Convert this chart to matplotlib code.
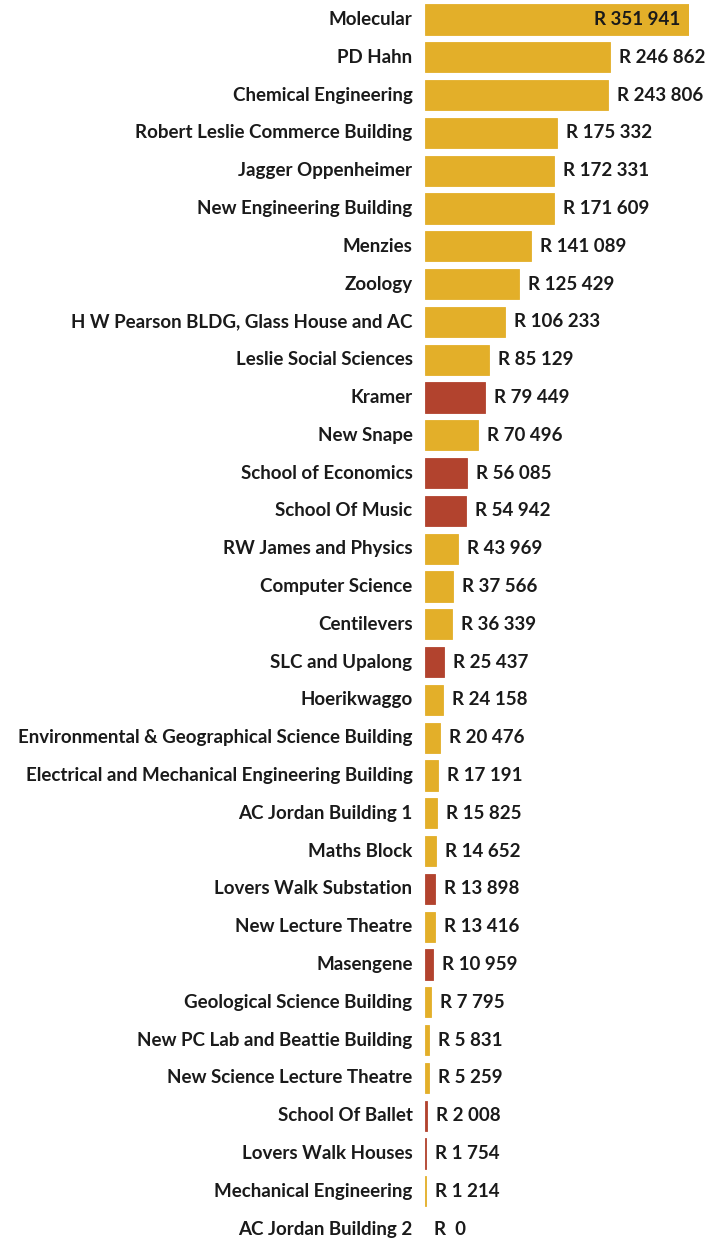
import numpy as np
import matplotlib.pyplot as plt

plt.rcParams['font.family'] = ['Lato', 'DejaVu Sans']

buildings = [
    'Molecular', 'PD Hahn', 'Chemical Engineering', 'Robert Leslie Commerce Building',
    'Jagger Oppenheimer', 'New Engineering Building', 'Menzies', 'Zoology',
    'H W Pearson BLDG, Glass House and AC', 'Leslie Social Sciences', 'Kramer',
    'New Snape', 'School of Economics', 'School Of Music', 'RW James and Physics',
    'Computer Science', 'Centilevers', 'SLC and Upalong', 'Hoerikwaggo',
    'Environmental & Geographical Science Building',
    'Electrical and Mechanical Engineering Building', 'AC Jordan Building 1',
    'Maths Block', 'Lovers Walk Substation', 'New Lecture Theatre', 'Masengene',
    'Geological Science Building', 'New PC Lab and Beattie Building',
    'New Science Lecture Theatre', 'School Of Ballet', 'Lovers Walk Houses',
    'Mechanical Engineering', 'AC Jordan Building 2',
]
costs = [
    351941, 246862, 243806, 175332, 172331, 171609, 141089, 125429, 106233,
    85129, 79449, 70496, 56085, 54942, 43969, 37566, 36339, 25437, 24158,
    20476, 17191, 15825, 14652, 13898, 13416, 10959, 7795, 5831, 5259,
    2008, 1754, 1214, 0,
]
highlighted = [
    'Kramer', 'School of Economics', 'School Of Music', 'SLC and Upalong',
    'Lovers Walk Substation', 'Masengene', 'School Of Ballet', 'Lovers Walk Houses',
]

gold = '#E3AF29'
red = '#B2432E'


def fmt(v):
    if v == 0:
        return 'R  0'
    return 'R ' + f'{v:,}'.replace(',', ' ')


fig = plt.figure(figsize=(7.19, 12.41), dpi=100)
ax = fig.add_axes([425 / 719, 0, (689 - 425) / 719, 1])

y = np.arange(len(buildings))
colors = [red if b in highlighted else gold for b in buildings]
edges = [c if v > 0 else 'none' for c, v in zip(colors, costs)]
ax.barh(y, costs, height=0.8, color=colors, edgecolor=edges, linewidth=0.6)

ax.set_xlim(0, max(costs))
ax.set_ylim((1241 - 19.5) / 37.8, -19.5 / 37.8)
ax.axis('off')

txt = dict(va='center', fontsize=13.5, fontweight='bold', color='#1a1a1a')
for i, (b, v) in enumerate(zip(buildings, costs)):
    ax.annotate(b, (0, i), xytext=(-9, 0), textcoords='offset points',
                ha='right', **txt)
    if i == 0:
        ax.annotate(fmt(v), (v, i), xytext=(-6, 0), textcoords='offset points',
                    ha='right', **txt)
    else:
        ax.annotate(fmt(v), (v, i), xytext=(6.5, 0), textcoords='offset points',
                    ha='left', **txt)

plt.savefig('out.png', dpi=100)
